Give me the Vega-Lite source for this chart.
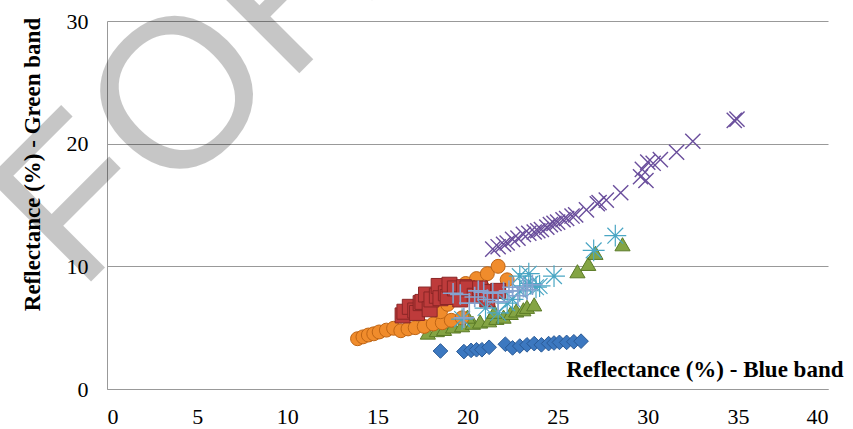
{
  "$schema": "https://vega.github.io/schema/vega-lite/v6.json",
  "width": 721,
  "height": 368,
  "autosize": "none",
  "padding": {"left": 107, "top": 21, "right": 25, "bottom": 40},
  "background": "white",
  "config": {"view": {"stroke": null}, "font": "Liberation Serif", "axis": {"labelFont": "Liberation Serif", "titleFont": "Liberation Serif"}},
  "datasets": {
    "diamond": [
      {"b": 18.5, "g": 3.1}, {"b": 19.8, "g": 3.05}, {"b": 20.2, "g": 3.15}, {"b": 20.5, "g": 3.2},
      {"b": 20.8, "g": 3.2}, {"b": 21.2, "g": 3.4}, {"b": 22.1, "g": 3.65}, {"b": 22.5, "g": 3.35},
      {"b": 22.9, "g": 3.5}, {"b": 23.3, "g": 3.6}, {"b": 23.7, "g": 3.7}, {"b": 24.1, "g": 3.6},
      {"b": 24.5, "g": 3.7}, {"b": 24.8, "g": 3.75}, {"b": 25.1, "g": 3.8}, {"b": 25.5, "g": 3.8},
      {"b": 25.9, "g": 3.85}, {"b": 26.3, "g": 3.9}
    ],
    "square": [
      {"b": 16.4, "g": 6.0}, {"b": 16.5, "g": 6.3}, {"b": 16.8, "g": 6.7}, {"b": 17.1, "g": 6.4},
      {"b": 17.2, "g": 6.2}, {"b": 17.4, "g": 7.0}, {"b": 17.5, "g": 7.1}, {"b": 17.7, "g": 7.7},
      {"b": 17.9, "g": 6.5}, {"b": 18.0, "g": 7.3}, {"b": 18.3, "g": 7.6}, {"b": 18.4, "g": 8.4},
      {"b": 18.5, "g": 7.4}, {"b": 18.8, "g": 7.8}, {"b": 18.9, "g": 7.5}, {"b": 19.0, "g": 8.5},
      {"b": 19.3, "g": 8.2}, {"b": 19.6, "g": 7.3}, {"b": 19.8, "g": 8.3}, {"b": 20.0, "g": 8.2},
      {"b": 20.4, "g": 7.6}, {"b": 20.7, "g": 8.2}, {"b": 21.1, "g": 7.3}, {"b": 21.3, "g": 7.9},
      {"b": 21.7, "g": 8.0}
    ],
    "triangle": [
      {"b": 17.8, "g": 4.6}, {"b": 18.3, "g": 4.8}, {"b": 18.7, "g": 4.9}, {"b": 19.2, "g": 5.1},
      {"b": 19.7, "g": 5.2}, {"b": 20.3, "g": 5.4}, {"b": 20.7, "g": 5.5}, {"b": 21.2, "g": 5.6},
      {"b": 21.6, "g": 5.8}, {"b": 22.0, "g": 5.9}, {"b": 22.4, "g": 6.2}, {"b": 22.7, "g": 6.4},
      {"b": 23.1, "g": 6.5}, {"b": 23.3, "g": 6.7}, {"b": 23.7, "g": 6.9}, {"b": 20.0, "g": 5.9},
      {"b": 21.5, "g": 6.3}, {"b": 26.1, "g": 9.6}, {"b": 26.7, "g": 10.2}, {"b": 27.1, "g": 11.1},
      {"b": 28.6, "g": 11.8}
    ],
    "xmark": [
      {"b": 21.4, "g": 11.4}, {"b": 21.7, "g": 11.6}, {"b": 22.0, "g": 11.8}, {"b": 22.2, "g": 11.9},
      {"b": 22.5, "g": 12.2}, {"b": 22.8, "g": 12.3}, {"b": 23.1, "g": 12.6}, {"b": 23.4, "g": 12.7},
      {"b": 23.7, "g": 12.8}, {"b": 23.9, "g": 12.9}, {"b": 24.1, "g": 13.0}, {"b": 24.4, "g": 13.2},
      {"b": 24.6, "g": 13.4}, {"b": 24.8, "g": 13.5}, {"b": 25.0, "g": 13.6}, {"b": 25.3, "g": 13.8},
      {"b": 25.5, "g": 13.9}, {"b": 25.8, "g": 14.1}, {"b": 26.0, "g": 14.2}, {"b": 26.6, "g": 14.6},
      {"b": 27.2, "g": 15.1}, {"b": 27.3, "g": 15.2}, {"b": 27.7, "g": 15.4}, {"b": 28.5, "g": 16.0},
      {"b": 29.6, "g": 17.3}, {"b": 29.7, "g": 17.9}, {"b": 29.9, "g": 17.0}, {"b": 30.0, "g": 18.5},
      {"b": 30.3, "g": 18.4}, {"b": 30.7, "g": 18.7}, {"b": 31.6, "g": 19.3}, {"b": 32.5, "g": 20.2},
      {"b": 34.8, "g": 21.9}, {"b": 34.95, "g": 22.0}
    ],
    "asterisk": [
      {"b": 19.7, "g": 5.7}, {"b": 21.0, "g": 6.6}, {"b": 21.7, "g": 6.2}, {"b": 22.2, "g": 7.0},
      {"b": 22.5, "g": 7.3}, {"b": 22.9, "g": 8.0}, {"b": 22.9, "g": 9.2}, {"b": 23.2, "g": 8.4},
      {"b": 23.4, "g": 9.4}, {"b": 23.5, "g": 8.6}, {"b": 23.8, "g": 8.3}, {"b": 24.0, "g": 8.4},
      {"b": 24.8, "g": 9.2}, {"b": 27.0, "g": 11.3}, {"b": 28.2, "g": 12.5}
    ],
    "circle": [
      {"b": 13.9, "g": 4.1}, {"b": 14.2, "g": 4.25}, {"b": 14.5, "g": 4.4}, {"b": 14.8, "g": 4.5},
      {"b": 15.1, "g": 4.65}, {"b": 15.5, "g": 4.8}, {"b": 15.9, "g": 4.95}, {"b": 16.3, "g": 4.75},
      {"b": 16.7, "g": 4.9}, {"b": 17.1, "g": 5.0}, {"b": 17.6, "g": 5.1}, {"b": 18.1, "g": 5.3},
      {"b": 18.6, "g": 5.4}, {"b": 19.1, "g": 5.6}, {"b": 19.7, "g": 5.8}, {"b": 18.5, "g": 6.3},
      {"b": 18.9, "g": 6.9}, {"b": 19.3, "g": 7.6}, {"b": 19.9, "g": 8.6}, {"b": 20.5, "g": 9.0},
      {"b": 21.1, "g": 9.4}, {"b": 21.7, "g": 10.0}, {"b": 22.2, "g": 8.9}, {"b": 20.9, "g": 8.2}
    ],
    "plus": [
      {"b": 19.2, "g": 7.8}, {"b": 19.6, "g": 7.7}, {"b": 19.8, "g": 5.8}, {"b": 20.1, "g": 7.0},
      {"b": 20.4, "g": 7.5}, {"b": 20.6, "g": 8.0}, {"b": 20.9, "g": 7.9}, {"b": 21.1, "g": 7.3},
      {"b": 21.4, "g": 7.8}, {"b": 21.7, "g": 7.1}, {"b": 22.0, "g": 7.9}, {"b": 22.3, "g": 8.0},
      {"b": 22.5, "g": 8.3}, {"b": 22.8, "g": 7.6}, {"b": 23.1, "g": 8.3}, {"b": 23.3, "g": 8.1},
      {"b": 23.6, "g": 8.5}
    ],
    "watermark": [{"t": "FOR"}]
  },
  "layer": [
    {
      "data": {"name": "triangle"},
      "mark": {"type": "point", "shape": "triangle-up", "filled": true, "size": 230, "color": "#84A444", "stroke": "#5A7A26", "strokeWidth": 1, "opacity": 1},
      "encoding": {
        "x": {
          "field": "b", "type": "quantitative",
          "scale": {"domain": [0, 40], "nice": false, "zero": false},
          "axis": {
            "values": [0, 5, 10, 15, 20, 25, 30, 35, 40],
            "grid": false, "ticks": false, "domain": true, "domainColor": "#999999",
            "labelFont": "Liberation Serif", "labelFontSize": 22, "labelColor": "#000000", "labelPadding": 17,
            "title": "Reflectance (%) - Blue band",
            "titleFont": "Liberation Serif", "titleFontSize": 23, "titleFontWeight": "bold", "titleColor": "#000000",
            "titleX": 736, "titleY": -13, "titleAlign": "right", "titleBaseline": "alphabetic", "titleAnchor": null
          }
        },
        "y": {
          "field": "g", "type": "quantitative",
          "scale": {"domain": [0, 30], "nice": false, "zero": false},
          "axis": {
            "values": [0, 10, 20, 30],
            "grid": true, "gridColor": "#999999", "gridWidth": 1,
            "ticks": false, "domain": true, "domainColor": "#999999",
            "labelFont": "Liberation Serif", "labelFontSize": 22, "labelColor": "#000000", "labelPadding": 19,
            "title": "Reflectance (%) - Green band",
            "titleFont": "Liberation Serif", "titleFontSize": 23, "titleFontWeight": "bold", "titleColor": "#000000",
            "titleAngle": -90, "titleX": -75, "titleY": 143, "titleAlign": "center", "titleBaseline": "middle"
          }
        }
      }
    },
    {
      "data": {"name": "circle"},
      "mark": {"type": "point", "shape": "circle", "filled": true, "size": 195, "color": "#F08C2C", "stroke": "#BF6515", "strokeWidth": 1, "opacity": 1},
      "encoding": {"x": {"field": "b", "type": "quantitative"}, "y": {"field": "g", "type": "quantitative"}}
    },
    {
      "data": {"name": "square"},
      "mark": {"type": "point", "shape": "square", "filled": true, "size": 225, "color": "#BE3B3B", "stroke": "#8A2626", "strokeWidth": 1, "opacity": 1},
      "encoding": {"x": {"field": "b", "type": "quantitative"}, "y": {"field": "g", "type": "quantitative"}}
    },
    {
      "data": {"name": "diamond"},
      "mark": {"type": "point", "shape": "diamond", "filled": true, "size": 215, "color": "#3C78C0", "stroke": "#2A5A96", "strokeWidth": 1, "opacity": 1},
      "encoding": {"x": {"field": "b", "type": "quantitative"}, "y": {"field": "g", "type": "quantitative"}}
    },
    {
      "data": {"name": "xmark"},
      "mark": {"type": "point", "shape": "M-1,-1L1,1M-1,1L1,-1", "filled": false, "size": 230, "stroke": "#6A4E9C", "strokeWidth": 1.4, "opacity": 1},
      "encoding": {"x": {"field": "b", "type": "quantitative"}, "y": {"field": "g", "type": "quantitative"}}
    },
    {
      "data": {"name": "asterisk"},
      "mark": {"type": "point", "shape": "M-1,0L1,0M0,-1L0,1M-0.72,-0.72L0.72,0.72M-0.72,0.72L0.72,-0.72", "filled": false, "size": 480, "stroke": "#4AA6C4", "strokeWidth": 1.2, "opacity": 1},
      "encoding": {"x": {"field": "b", "type": "quantitative"}, "y": {"field": "g", "type": "quantitative"}}
    },
    {
      "data": {"name": "plus"},
      "mark": {"type": "point", "shape": "M-1,0L1,0M0,-1L0,1", "filled": false, "size": 420, "stroke": "#86A3D0", "strokeWidth": 1.6, "opacity": 1},
      "encoding": {"x": {"field": "b", "type": "quantitative"}, "y": {"field": "g", "type": "quantitative"}}
    },
    {
      "data": {"name": "watermark"},
      "mark": {"type": "text", "font": "Liberation Sans", "fontSize": 212, "angle": -45, "align": "center", "baseline": "middle", "color": "#000000", "opacity": 0.22, "clip": false},
      "encoding": {
        "text": {"field": "t"},
        "x": {"datum": 4.7, "type": "quantitative"},
        "y": {"datum": 24.35, "type": "quantitative"}
      }
    }
  ]
}
